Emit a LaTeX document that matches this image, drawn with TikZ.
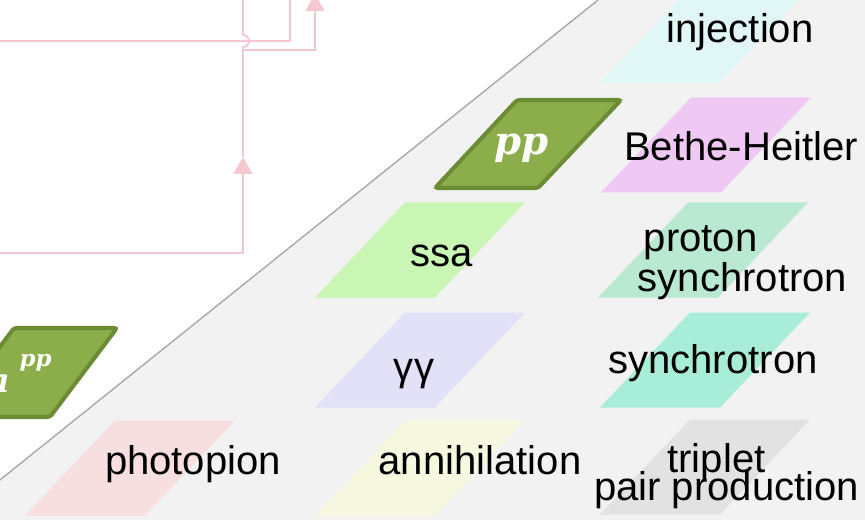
\documentclass[tikz,border=0pt]{standalone}
\usepackage{amsmath}
\usepackage{fontspec}
\setmainfont{Liberation Sans}
\newfontfamily\ppfont{DejaVu Serif}
\usetikzlibrary{arrows.meta,positioning,calc}
\definecolor{linkpink}{HTML}{F5C8CF}
\definecolor{bggray}{HTML}{F2F2F2}
\definecolor{diaggray}{HTML}{A9A9A9}
\definecolor{ppgreen}{HTML}{8BAE4B}
\definecolor{ppedge}{HTML}{6B8C35}
\definecolor{injcyan}{HTML}{E0F6F7}
\definecolor{bhpink}{HTML}{EFC9F3}
\definecolor{protgreen}{HTML}{B9E9D0}
\definecolor{synaqua}{HTML}{A7EDD7}
\definecolor{tripgray}{HTML}{E2E2E2}
\definecolor{ssagreen}{HTML}{C9F5B5}
\definecolor{gglav}{HTML}{E3E1F8}
\definecolor{annyellow}{HTML}{F6F8E0}
\definecolor{photopink}{HTML}{F8DFDF}

\newcommand\tile[3]{\fill[#3] ({#1-105},{-#2-47.5}) -- ++(120,0) -- ++(90,95) -- ++(-120,0) -- cycle;}

\begin{document}
\begin{tikzpicture}[x=0.02cm,y=0.02cm,
    link/.style={draw=linkpink,line width=1.1pt},
    pinktip/.style={-{Triangle[width=0.38cm,length=0.34cm,fill=linkpink]}},
    lbl/.style={font=\fontsize{22.8}{22.8}\selectfont,inner sep=0pt},
    pptile/.style={fill=ppgreen,draw=ppedge,line width=2.3pt,rounded corners=1.5pt},
    pplbl/.style={text=white,inner sep=0pt,font=\ppfont\bfseries\itshape\fontsize{19}{19}\selectfont}]
    \useasboundingbox (0,-520) rectangle (865,0);
    \clip (0,-520) rectangle (865,0);

    \fill[bggray] (-50,-520) -- (598,0) -- (870,0) -- (870,-525) -- cycle;
    \draw[diaggray,line width=0.8pt] (-50,-520) -- (598,0);

    \coordinate (srcA) at (0,-253);
    \coordinate (midA) at (243,-157);
    \coordinate (knee) at (243,-50);
    \coordinate (outA) at (315,6);
    \coordinate (outB) at (243,0);
    \coordinate (srcC) at (0,-41);
    \coordinate (outC) at (290,0);

    \draw[link] (srcC) -| (outC);
    \draw[link,pinktip] (srcA) -| (midA);
    \draw[link,pinktip] (midA) -- (knee) -| (outA);
    \draw[link] (knee) -- ++(0,3) arc[start angle=-90,end angle=90,radius=6] -- (outB);

    \tile{705}{35}{injcyan}
    \tile{706}{145}{bhpink}
    \tile{703}{250}{protgreen}
    \tile{705}{360}{synaqua}
    \tile{705}{467}{tripgray}
    \tile{420}{250}{ssagreen}
    \tile{420}{360}{gglav}
    \tile{420}{468}{annyellow}
    \tile{130}{468}{photopink}

    \draw[pptile] (435,-188) -- (538,-188) -- (621,-100) -- (517,-100) -- cycle;
    \draw[pptile] (-53,-417) -- (50,-417) -- (117,-328) -- (14,-328) -- cycle;
    \node[pplbl,font=\ppfont\bfseries\itshape\fontsize{22}{22}\selectfont] (ppR) at (522,-148) {pp};
    \node[pplbl,anchor=base east] (ppL) at (52,-392) {a\hspace{0.3em}\raisebox{0.75em}{\fontsize{13}{13}\selectfont pp}};

    \node[lbl,anchor=base] (inj) at (740,-43) {injection};
    \node[lbl,anchor=base] (bh) at (741,-161) {Bethe-Heitler};
    \node[lbl,align=left] (psyn) at (742.5,-263) {\hspace{0.15em}proton\\synchrotron};
    \node[lbl,anchor=base] (ssa) at (442,-266) {ssa};
    \node[lbl,anchor=base] (gg) at (414,-380) {γγ};
    \node[lbl,anchor=base] (syn) at (713,-373) {synchrotron};
    \node[lbl,anchor=base] (photo) at (193,-474) {photopion};
    \node[lbl,anchor=base] (anni) at (480,-474) {annihilation};
    \node[lbl,align=center,font={\fontsize{22.8}{15.9}\selectfont\lineskiplimit=-50pt}] (trip) at (726.5,-476) {triplet\hspace*{0.5em}\\pair production};
\end{tikzpicture}
\end{document}
